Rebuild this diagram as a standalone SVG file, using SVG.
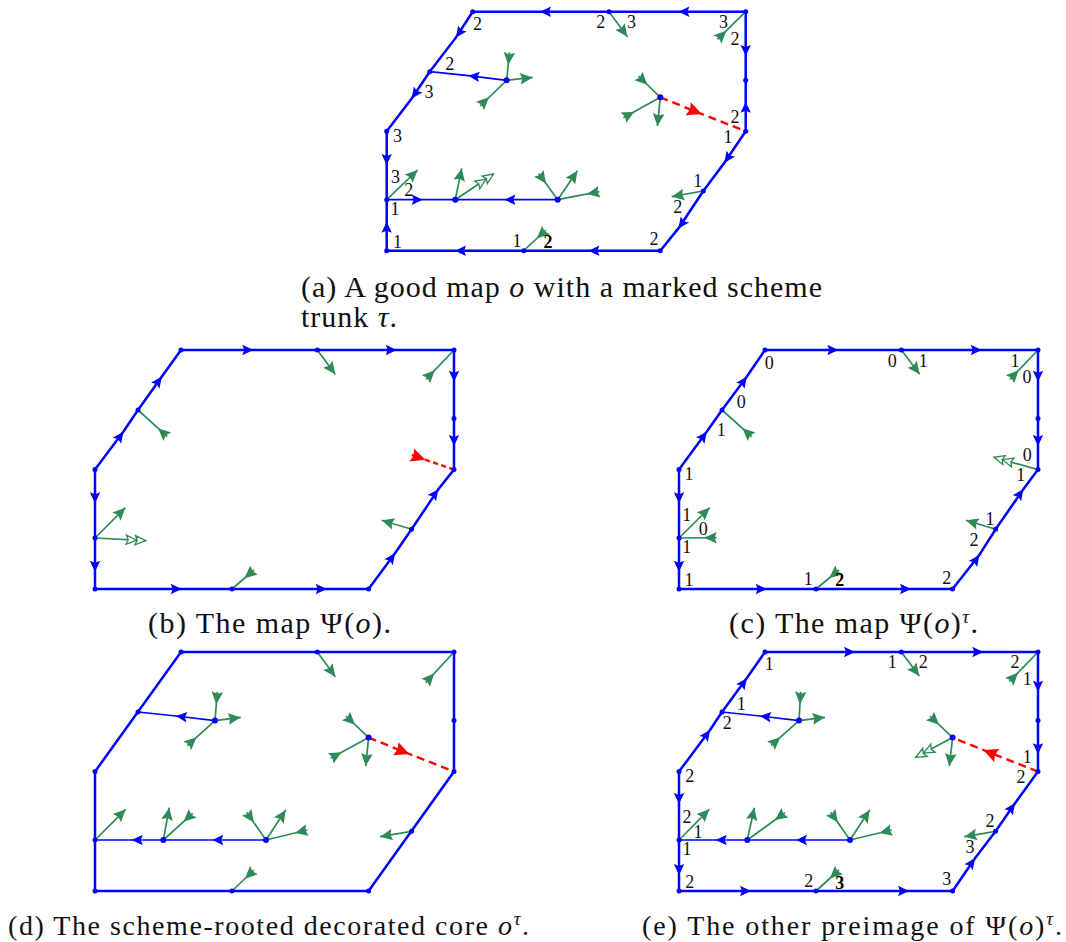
<svg xmlns="http://www.w3.org/2000/svg" width="1066" height="942" viewBox="0 0 1066 942">
<style>
.e{fill:none;stroke:#0000ff;stroke-width:2.5;marker-mid:url(#bh)}
.p{fill:none;stroke:#0000ff;stroke-width:2.5}
.t{fill:none;stroke:#0000ff;stroke-width:1.7;marker-mid:url(#bh)}
.r{fill:none;stroke:#ff0000;stroke-width:2.4;stroke-dasharray:8 5;marker-mid:url(#rh)}
.go{fill:none;stroke:#2e8b57;stroke-width:1.7;marker-end:url(#go)}
.gr{fill:none;stroke:#2e8b57;stroke-width:1.7;marker-end:url(#gr)}
.gd{fill:none;stroke:#2e8b57;stroke-width:1.7;marker-end:url(#gd)}
circle{fill:#0000ff;r:2.5px}
circle.i{r:3px}
.l{font-family:"Liberation Serif",serif;font-size:18px;text-anchor:middle;dominant-baseline:central;fill:#111}
.b{font-weight:bold;fill:#000}
.c{font-family:"Liberation Serif",serif;font-size:30px;fill:#111}
.n{font-size:28px}
.m{font-style:italic}
.s{font-size:19px;font-style:italic}
</style>
<defs>
<marker id="bh" markerUnits="userSpaceOnUse" viewBox="-14 -7 16 14" markerWidth="16" markerHeight="14" refX="0" refY="0" orient="auto"><path d="M0,0L-11,-5.2L-9,0L-11,5.2Z" fill="#0000ff"/></marker>
<marker id="rh" markerUnits="userSpaceOnUse" viewBox="-17 -8 19 16" markerWidth="19" markerHeight="16" refX="0" refY="0" orient="auto"><path d="M0,0L-14.5,-7L-12.5,0L-14.5,7Z" fill="#ff0000"/></marker>
<marker id="rr" markerUnits="userSpaceOnUse" viewBox="-17 -8 19 16" markerWidth="19" markerHeight="16" refX="0" refY="0" orient="auto"><path d="M-14.5,0L0,-7L-2,0L0,7Z" fill="#ff0000"/></marker>
<marker id="go" markerUnits="userSpaceOnUse" viewBox="-15 -7 17 14" markerWidth="17" markerHeight="14" refX="0" refY="0" orient="auto"><path d="M0,0L-12.5,-5.8L-10.5,0L-12.5,5.8Z" fill="#2e8b57"/></marker>
<marker id="gr" markerUnits="userSpaceOnUse" viewBox="-15 -7 17 14" markerWidth="17" markerHeight="14" refX="0" refY="0" orient="auto"><path d="M-12.5,0L0,-5.8L-2,0L0,5.8Z" fill="#2e8b57"/></marker>
<marker id="gd" markerUnits="userSpaceOnUse" viewBox="-22 -7 24 14" markerWidth="24" markerHeight="14" refX="0" refY="0" orient="auto"><path d="M-9,0L-19.5,-4.6L-17.5,0L-19.5,4.6Z M0,0L-10.5,-4.6L-8.5,0L-10.5,4.6Z" fill="#fff" stroke="#2e8b57" stroke-width="1.3"/></marker>
</defs>

<g id="panel-a" transform="translate(386.7,11.7)">
<g id="a-connectors">
<path class="e" d="M359,0L291.7,0L222.3,0"/><path class="e" d="M222.3,0L153.3,0L86,0"/>
<path class="e" d="M86,0L69.3,25.7L43,60"/><path class="e" d="M43,60L25,86.7L0,119.6"/>
<path class="e" d="M0,119.6L0,153.3L0,188"/><path class="e" d="M0,239L0,210L0,188"/>
<path class="e" d="M273.6,239L201.7,239L137,239"/><path class="e" d="M137,239L68.3,239L0,239"/>
<path class="e" d="M359,119.6L337.7,151L316.6,179.3"/><path class="e" d="M316.6,179.3L291.7,216.7L273.6,239"/>
<path class="e" d="M359,0L359,44.3L359,68.6"/><path class="e" d="M359,119.6L359,90L359,68.6"/>
<path class="t" d="M120,68.6L81.7,64L43,60"/><path class="t" d="M0,188L36,188L68.6,188"/><path class="t" d="M171,188L117.7,188L68.6,188"/>
<path class="r" d="M273.6,85.6L315,102.3L359,119.6"/>
<path class="go" d="M222.3,0L240.7,25"/><path class="gr" d="M359,0L330.7,27.7"/>
<path class="gr" d="M120,68.6L122.7,40.7"/><path class="go" d="M120,68.6L146,65.7"/><path class="gr" d="M120,68.6L93.3,94.3"/>
<path class="gr" d="M273.6,85.6L251.7,64.3"/><path class="gr" d="M273.6,85.6L236.7,106"/><path class="go" d="M273.6,85.6L270.7,114.3"/>
<path class="go" d="M0,188L31,158.3"/>
<path class="go" d="M68.6,188L75,156.7"/><path class="gd" d="M68.6,188L106.7,162.3"/>
<path class="gr" d="M171,188L152,161.7"/><path class="go" d="M171,188L190.7,159"/><path class="gr" d="M171,188L212.7,180"/>
<path class="go" d="M316.6,179.3L285,185"/><path class="gr" d="M137,239L159.3,218.3"/>
</g>
<g id="a-TL"><circle cx="86" cy="0"/><text class="l" x="90.7" y="12.3">2</text></g>
<g id="a-TM"><circle cx="222.3" cy="0"/><text class="l" x="214" y="10">2</text><text class="l" x="244.7" y="10.7">3</text></g>
<g id="a-TR"><circle cx="359" cy="0"/><text class="l" x="336.7" y="10.7">3</text><text class="l" x="348.3" y="27.7">2</text></g>
<g id="a-MR"><circle cx="359" cy="68.6"/></g>
<g id="a-R"><circle cx="359" cy="119.6"/><text class="l" x="348.3" y="105">2</text><text class="l" x="341.3" y="125">1</text></g>
<g id="a-BR"><circle cx="273.6" cy="239"/><text class="l" x="267.3" y="227.7">2</text></g>
<g id="a-BM"><circle cx="137" cy="239"/><text class="l" x="130.3" y="229">1</text><text class="l b" x="161.3" y="230.7">2</text></g>
<g id="a-BL"><circle cx="0" cy="239"/><text class="l" x="10.7" y="230">1</text></g>
<g id="a-L"><circle cx="0" cy="188"/><text class="l" x="8.7" y="165.7">3</text><text class="l" x="22" y="178.3">2</text><text class="l" x="8.3" y="197.7">1</text></g>
<g id="a-UL"><circle cx="0" cy="119.6"/><text class="l" x="10.7" y="124.3">3</text></g>
<g id="a-MUL"><circle cx="43" cy="60"/><text class="l" x="63" y="52.3">2</text><text class="l" x="42.3" y="80.3">3</text></g>
<g id="a-RD"><circle cx="316.6" cy="179.3"/><text class="l" x="311" y="169.3">1</text><text class="l" x="291" y="195.7">2</text></g>
<g id="a-I1"><circle class="i" cx="120" cy="68.6"/></g>
<g id="a-I2"><circle class="i" cx="273.6" cy="85.6"/></g>
<g id="a-I3"><circle class="i" cx="68.6" cy="188"/></g>
<g id="a-I4"><circle class="i" cx="171" cy="188"/></g>
</g>

<g id="panel-b" transform="translate(95,350)">
<g id="b-connectors">
<path class="e" d="M86,0L158.3,0L222.3,0"/><path class="e" d="M222.3,0L301.7,0L359,0"/>
<path class="e" d="M0,119.6L28.3,81.7L43,60"/><path class="e" d="M43,60L66.7,26.7L86,0"/>
<path class="e" d="M0,119.6L0,153.3L0,188"/><path class="e" d="M0,188L0,221.7L0,239"/>
<path class="e" d="M0,239L86.7,239L137,239"/><path class="e" d="M137,239L231.7,239L273.6,239"/>
<path class="e" d="M273.6,239L300,203.3L316.6,179.3"/><path class="e" d="M316.6,179.3L343.3,139.3L359,119.6"/>
<path class="e" d="M359,0L359,31.7L359,68.6"/><path class="e" d="M359,68.6L359,96L359,119.6"/>
<path d="M359,119.6L316.7,105" fill="none" stroke="#ff0000" stroke-width="2.4" stroke-dasharray="5 3.5" marker-end="url(#rr)"/>
<path class="go" d="M222.3,0L240.3,24.3"/><path class="gr" d="M359,0L331,29.3"/><path class="gr" d="M43,60L72.3,86.7"/>
<path class="go" d="M0,188L30.3,157.7"/><path class="gd" d="M0,188L50.7,190.7"/>
<path class="go" d="M316.6,179.3L286.7,170.3"/><path class="gr" d="M137,239L159,220"/>
</g>
<g id="b-TL"><circle cx="86" cy="0"/></g>
<g id="b-TM"><circle cx="222.3" cy="0"/></g>
<g id="b-TR"><circle cx="359" cy="0"/></g>
<g id="b-MR"><circle cx="359" cy="68.6"/></g>
<g id="b-R"><circle cx="359" cy="119.6"/></g>
<g id="b-BR"><circle cx="273.6" cy="239"/></g>
<g id="b-BM"><circle cx="137" cy="239"/></g>
<g id="b-BL"><circle cx="0" cy="239"/></g>
<g id="b-L"><circle cx="0" cy="188"/></g>
<g id="b-UL"><circle cx="0" cy="119.6"/></g>
<g id="b-MUL"><circle cx="43" cy="60"/></g>
<g id="b-RD"><circle cx="316.6" cy="179.3"/></g>
</g>

<g id="panel-c" transform="translate(679,350)">
<g id="c-connectors">
<path class="e" d="M86,0L159.3,0L222.3,0"/><path class="e" d="M222.3,0L302.7,0L359,0"/>
<path class="e" d="M0,119.6L27.7,81.7L43,60"/><path class="e" d="M43,60L67.7,26.7L86,0"/>
<path class="e" d="M0,119.6L0,153.3L0,188"/><path class="e" d="M0,188L0,221.7L0,239"/>
<path class="e" d="M0,239L87.7,239L137,239"/><path class="e" d="M137,239L232,239L273.6,239"/>
<path class="e" d="M273.6,239L300.3,205L316.6,179.3"/><path class="e" d="M316.6,179.3L344.3,139.3L359,119.6"/>
<path class="e" d="M359,0L359,31.7L359,68.6"/><path class="e" d="M359,68.6L359,96L359,119.6"/>
<path class="go" d="M222.3,0L240.7,24.3"/><path class="gr" d="M359,0L331,29.3"/><path class="gr" d="M43,60L72.7,86.7"/>
<path class="go" d="M0,188L30.7,157.7"/><path class="gr" d="M0,188L37.7,187.7"/><path class="gd" d="M359,119.6L315,107.3"/>
<path class="go" d="M316.6,179.3L287,170.3"/><path class="gr" d="M137,239L160,220"/>
</g>
<g id="c-TL"><circle cx="86" cy="0"/><text class="l" x="90.3" y="12.7">0</text></g>
<g id="c-TM"><circle cx="222.3" cy="0"/><text class="l" x="213.3" y="10.7">0</text><text class="l" x="244.3" y="10.7">1</text></g>
<g id="c-TR"><circle cx="359" cy="0"/><text class="l" x="336" y="10.7">1</text><text class="l" x="348" y="27.3">0</text></g>
<g id="c-MR"><circle cx="359" cy="68.6"/></g>
<g id="c-R"><circle cx="359" cy="119.6"/><text class="l" x="348.3" y="105">0</text><text class="l" x="341.7" y="125">1</text></g>
<g id="c-BR"><circle cx="273.6" cy="239"/><text class="l" x="267.7" y="227.7">2</text></g>
<g id="c-BM"><circle cx="137" cy="239"/><text class="l" x="129.3" y="229">1</text><text class="l b" x="160.7" y="230">2</text></g>
<g id="c-BL"><circle cx="0" cy="239"/><text class="l" x="10" y="230">1</text></g>
<g id="c-L"><circle cx="0" cy="188"/><text class="l" x="7.7" y="165">1</text><text class="l" x="24.3" y="179.3">0</text><text class="l" x="7.7" y="197.3">1</text></g>
<g id="c-UL"><circle cx="0" cy="119.6"/><text class="l" x="10" y="124">1</text></g>
<g id="c-MUL"><circle cx="43" cy="60"/><text class="l" x="62.3" y="52.3">0</text><text class="l" x="42.3" y="80">1</text></g>
<g id="c-RD"><circle cx="316.6" cy="179.3"/><text class="l" x="311" y="169">1</text><text class="l" x="295" y="190">2</text></g>
</g>

<g id="panel-d" transform="translate(95,652)">
<g id="d-connectors">
<path class="p" d="M86,0L359,0L359,119.6L273.6,239L0,239L0,119.6Z"/>
<path class="t" d="M120,68.6L81,64L43,60"/><path class="t" d="M68.3,188L36.7,188L0,188"/><path class="t" d="M171,188L117.3,188L68.3,188"/>
<path class="r" d="M273.6,85.6L314.3,102L359,119.6"/>
<path class="go" d="M222.3,0L240.3,24.7"/><path class="gr" d="M359,0L330.7,30.7"/>
<path class="gr" d="M120,68.6L122.3,39.7"/><path class="go" d="M120,68.6L145.7,65.3"/><path class="gr" d="M120,68.6L92.3,93.7"/>
<path class="gr" d="M273.6,85.6L251,64"/><path class="gr" d="M273.6,85.6L235.7,106.3"/><path class="go" d="M273.6,85.6L270.7,114"/>
<path class="go" d="M0,188L30.7,157.3"/>
<path class="go" d="M68.3,188L74.3,155.7"/><path class="gr" d="M68.3,188L97.7,161.3"/>
<path class="gr" d="M171,188L151.7,160.3"/><path class="go" d="M171,188L190.7,158"/><path class="gr" d="M171,188L212.3,178"/>
<path class="go" d="M316.6,179.3L285,184.7"/><path class="gr" d="M137,239L159,218"/>
</g>
<g id="d-TL"><circle cx="86" cy="0"/></g>
<g id="d-TM"><circle cx="222.3" cy="0"/></g>
<g id="d-TR"><circle cx="359" cy="0"/></g>
<g id="d-MR"><circle cx="359" cy="68.6"/></g>
<g id="d-R"><circle cx="359" cy="119.6"/></g>
<g id="d-BR"><circle cx="273.6" cy="239"/></g>
<g id="d-BM"><circle cx="137" cy="239"/></g>
<g id="d-BL"><circle cx="0" cy="239"/></g>
<g id="d-L"><circle cx="0" cy="188"/></g>
<g id="d-UL"><circle cx="0" cy="119.6"/></g>
<g id="d-MUL"><circle cx="43" cy="60"/></g>
<g id="d-RD"><circle cx="316.6" cy="179.3"/></g>
<g id="d-I1"><circle class="i" cx="120" cy="68.6"/></g>
<g id="d-I2"><circle class="i" cx="273.6" cy="85.6"/></g>
<g id="d-I3"><circle class="i" cx="68.3" cy="188"/></g>
<g id="d-I4"><circle class="i" cx="171" cy="188"/></g>
</g>

<g id="panel-e" transform="translate(679,652)">
<g id="e-connectors">
<path class="e" d="M86,0L176,0L222.3,0"/><path class="e" d="M222.3,0L304.3,0L359,0"/>
<path class="e" d="M0,119.6L31,78L43,60"/><path class="e" d="M43,60L67.7,26.3L86,0"/>
<path class="e" d="M0,119.6L0,152L0,188"/><path class="e" d="M0,188L0,223L0,239"/>
<path class="e" d="M0,239L72,239L137,239"/><path class="e" d="M137,239L230,239L273.6,239"/>
<path class="e" d="M273.6,239L296,206.3L316.6,179.3"/><path class="e" d="M316.6,179.3L336,151.3L359,119.6"/>
<path class="e" d="M359,0L359,39.7L359,68.6"/><path class="e" d="M359,68.6L359,102.3L359,119.6"/>
<path class="t" d="M120,68.6L81,64L43,60"/><path class="t" d="M68.3,188L36.7,188L0,188"/><path class="t" d="M171,188L117,188L68.3,188"/>
<path class="r" d="M359,119.6L304.3,98L273.6,85.6"/>
<path class="go" d="M222.3,0L240.3,24"/><path class="gr" d="M359,0L330.3,29.7"/>
<path class="gr" d="M120,68.6L121.7,39.7"/><path class="go" d="M120,68.6L146,65.3"/><path class="gr" d="M120,68.6L92,93.7"/>
<path class="gr" d="M273.6,85.6L251,64"/><path class="gd" d="M273.6,85.6L236.7,105.3"/><path class="go" d="M273.6,85.6L270.3,114"/>
<path class="go" d="M0,188L30.3,157.3"/>
<path class="go" d="M68.3,188L75.3,155.7"/><path class="gr" d="M68.3,188L106,160.7"/>
<path class="gr" d="M171,188L151.7,160.3"/><path class="go" d="M171,188L190.7,158"/><path class="gr" d="M171,188L212.7,178"/>
<path class="go" d="M316.6,179.3L285.3,184.7"/><path class="gr" d="M137,239L160,218"/>
</g>
<g id="e-TL"><circle cx="86" cy="0"/><text class="l" x="90.3" y="12">1</text></g>
<g id="e-TM"><circle cx="222.3" cy="0"/><text class="l" x="213.3" y="10.3">1</text><text class="l" x="244.3" y="10.3">2</text></g>
<g id="e-TR"><circle cx="359" cy="0"/><text class="l" x="336" y="10.3">2</text><text class="l" x="348.3" y="27.3">1</text></g>
<g id="e-MR"><circle cx="359" cy="68.6"/></g>
<g id="e-R"><circle cx="359" cy="119.6"/><text class="l" x="348.3" y="104.7">1</text><text class="l" x="342" y="124.7">2</text></g>
<g id="e-BR"><circle cx="273.6" cy="239"/><text class="l" x="267.7" y="227.3">3</text></g>
<g id="e-BM"><circle cx="137" cy="239"/><text class="l" x="129.7" y="228.7">2</text><text class="l b" x="160.7" y="231.3">3</text></g>
<g id="e-BL"><circle cx="0" cy="239"/><text class="l" x="10.7" y="229.7">2</text></g>
<g id="e-L"><circle cx="0" cy="188"/><text class="l" x="8" y="164.7">2</text><text class="l" x="19" y="179.7">1</text><text class="l" x="8" y="197.3">1</text></g>
<g id="e-UL"><circle cx="0" cy="119.6"/><text class="l" x="10.7" y="124">2</text></g>
<g id="e-MUL"><circle cx="43" cy="60"/><text class="l" x="62.3" y="52">1</text><text class="l" x="48.3" y="71.3">2</text></g>
<g id="e-RD"><circle cx="316.6" cy="179.3"/><text class="l" x="311" y="169">2</text><text class="l" x="291" y="194.7">3</text></g>
<g id="e-I1"><circle class="i" cx="120" cy="68.6"/></g>
<g id="e-I2"><circle class="i" cx="273.6" cy="85.6"/></g>
<g id="e-I3"><circle class="i" cx="68.3" cy="188"/></g>
<g id="e-I4"><circle class="i" cx="171" cy="188"/></g>
</g>

<g id="captions">
<text class="c" x="301" y="297" textLength="521">(a) A good map <tspan class="m">o</tspan> with a marked scheme</text>
<text class="c" x="301" y="327" textLength="96">trunk <tspan class="m">τ</tspan>.</text>
<text class="c" x="148" y="633" textLength="243">(b) The map Ψ(<tspan class="m">o</tspan>).</text>
<text class="c" x="729" y="633" textLength="249">(c) The map Ψ(<tspan class="m">o</tspan>)<tspan class="s" dy="-10">τ</tspan><tspan dy="10">.</tspan></text>
<text class="c n" x="8" y="935" textLength="521">(d) The scheme-rooted decorated core <tspan class="m">o</tspan><tspan class="s" dy="-10">τ</tspan><tspan dy="10">.</tspan></text>
<text class="c n" x="642" y="935" textLength="420">(e) The other preimage of Ψ(<tspan class="m">o</tspan>)<tspan class="s" dy="-10">τ</tspan><tspan dy="10">.</tspan></text>
</g>
</svg>
